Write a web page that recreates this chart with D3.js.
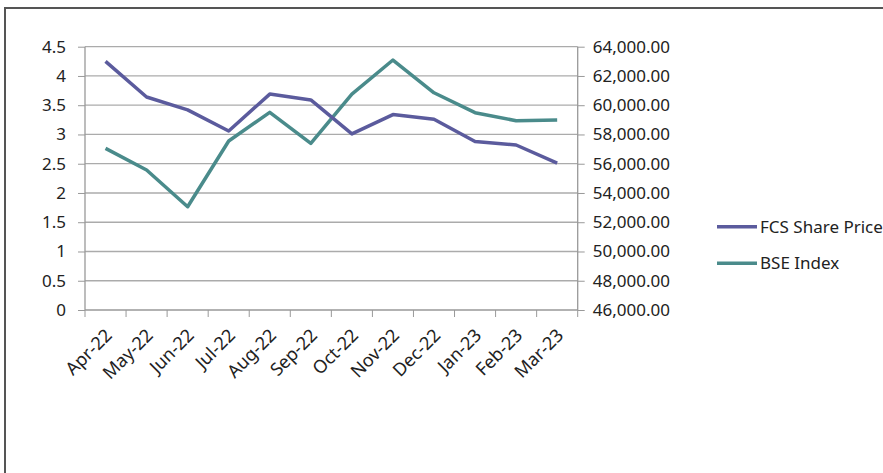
<!DOCTYPE html>
<html>
<head>
<meta charset="utf-8">
<script src="https://cdn.jsdelivr.net/npm/d3@7"></script>
<style>
  body { margin: 0; background: #fff; }
  svg { display: block; }
  text { font-family: "Noto Sans", sans-serif; fill: #222; }
</style>
</head>
<body>
<div id="chart"></div>
<script>
// months on the x axis
var months = ["Apr-22", "May-22", "Jun-22", "Jul-22", "Aug-22", "Sep-22",
              "Oct-22", "Nov-22", "Dec-22", "Jan-23", "Feb-23", "Mar-23"];

// left axis series
var fcsPrice = [4.25, 3.64, 3.42, 3.06, 3.69, 3.59, 3.01, 3.34, 3.26, 2.88, 2.82, 2.51];

// right axis series
var bseIndex = [57050, 55570, 53060, 57550, 59510, 57390, 60760, 63090, 60850, 59490, 58940, 58990];

var leftTicks = [0, 0.5, 1, 1.5, 2, 2.5, 3, 3.5, 4, 4.5];
var rightTicks = [46000, 48000, 50000, 52000, 54000, 56000, 58000, 60000, 62000, 64000];

var seriesNames = ["FCS Share Price", "BSE Index"];
var colors = ["#5b5b9d", "#4a8b8b"];

var svgWidth = 883;
var svgHeight = 473;

var margin = { top: 46.7, left: 85, right: 883 - 577.7, bottom: 473 - 310 };

var chart = {
    width: svgWidth - margin.left - margin.right,
    height: svgHeight - margin.top - margin.bottom
};

var svg = d3.select("#chart").append("svg")
    .attr("width", svgWidth)
    .attr("height", svgHeight);

// outer frame (runs off the right and bottom edges)
svg.append("rect")
    .attr("x", 5)
    .attr("y", 8)
    .attr("width", 900)
    .attr("height", 500)
    .attr("fill", "none")
    .attr("stroke", "#555")
    .attr("stroke-width", 2);

var g = svg.append("g")
    .attr("transform", `translate(${margin.left}, ${margin.top})`);

var xScale = d3.scaleBand()
    .domain(months)
    .range([0, chart.width]);

var yLeft = d3.scaleLinear()
    .domain([0, 4.5])
    .range([chart.height, 0]);

var yRight = d3.scaleLinear()
    .domain([46000, 64000])
    .range([chart.height, 0]);

// gridlines
g.selectAll(".grid")
    .data(leftTicks.slice(1))
    .enter()
    .append("line")
    .attr("x1", 0)
    .attr("x2", chart.width)
    .attr("y1", d => yLeft(d))
    .attr("y2", d => yLeft(d))
    .attr("stroke", "#ababab")
    .attr("stroke-width", 1.3);

// left axis
var leftAxis = g.append("g")
    .call(d3.axisLeft(yLeft).tickValues(leftTicks).tickSize(7).tickPadding(12)
        .tickFormat(d => String(d)));

// right axis
var rightAxis = g.append("g")
    .attr("transform", `translate(${chart.width}, 0)`)
    .call(d3.axisRight(yRight).tickValues(rightTicks).tickSize(7).tickPadding(8)
        .tickFormat(d3.format(",.2f")));

// bottom axis: ticks at band boundaries
var bottomAxis = g.append("g")
    .attr("transform", `translate(0, ${chart.height})`)
    .call(d3.axisBottom(xScale).tickSize(0).tickPadding(0));

var bounds = months.map(m => xScale(m)).concat([chart.width]);
bottomAxis.selectAll(".bound")
    .data(bounds)
    .enter()
    .append("line")
    .attr("x1", d => d)
    .attr("x2", d => d)
    .attr("y1", 0)
    .attr("y2", 7)
    .attr("stroke", "#999");

[leftAxis, rightAxis, bottomAxis].forEach(a => {
    a.select(".domain").attr("stroke", "#999").attr("stroke-width", 1.3);
    a.selectAll(".tick line").attr("stroke", "#999");
    a.selectAll(".tick text").attr("font-size", "17px").attr("fill", "#222")
        .style("font-family", "Noto Sans");
});
bottomAxis.select(".domain").attr("d", `M0,0H${chart.width}`);
leftAxis.select(".domain").attr("d", `M0,0V${chart.height}`);
rightAxis.select(".domain").attr("d", `M0,0V${chart.height}`);

bottomAxis.selectAll(".tick text")
    .attr("text-anchor", "end")
    .attr("font-size", "18px")
    .attr("y", 0)
    .attr("dy", "0.35em")
    .attr("transform", "translate(3, 22) rotate(-45)");

var xCenter = d => xScale(d) + xScale.bandwidth() / 2;

var fcsLine = d3.line()
    .x((d, i) => xCenter(months[i]))
    .y(d => yLeft(d));

var bseLine = d3.line()
    .x((d, i) => xCenter(months[i]))
    .y(d => yRight(d));

g.append("path")
    .datum(bseIndex)
    .attr("d", bseLine)
    .attr("fill", "none")
    .attr("stroke", colors[1])
    .attr("stroke-width", 3.5)
    .attr("stroke-linejoin", "round");

g.append("path")
    .datum(fcsPrice)
    .attr("d", fcsLine)
    .attr("fill", "none")
    .attr("stroke", colors[0])
    .attr("stroke-width", 3.5)
    .attr("stroke-linejoin", "round");

// legend
var legend = svg.append("g");
var legendY = [226.7, 263.3];
seriesNames.forEach((name, i) => {
    legend.append("line")
        .attr("x1", 717)
        .attr("x2", 757)
        .attr("y1", legendY[i])
        .attr("y2", legendY[i])
        .attr("stroke", colors[i])
        .attr("stroke-width", 3.5);
    legend.append("text")
        .attr("x", 760)
        .attr("y", legendY[i])
        .attr("dy", "0.35em")
        .attr("font-size", "17px")
        .text(name);
});
</script>
</body>
</html>
